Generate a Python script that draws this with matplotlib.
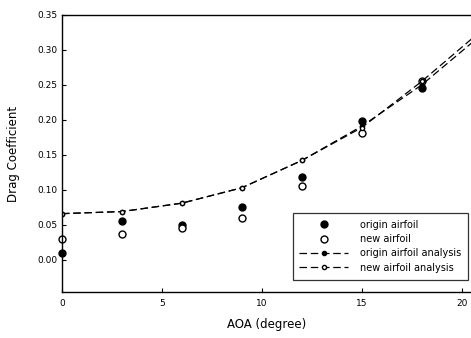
import matplotlib
matplotlib.use("Agg")
import matplotlib.pyplot as plt

plt.rcParams['font.family'] = ['DejaVu Sans']

# measured points
aoa = [0, 3, 6, 9, 12, 15, 18]
cd_origin = [0.010, 0.055, 0.050, 0.075, 0.118, 0.198, 0.245]
cd_new = [0.030, 0.037, 0.045, 0.060, 0.105, 0.181, 0.255]

# analysis curves
aoa_fit = [0, 3, 6, 9, 12, 15, 18, 21]
cd_origin_fit = [0.066, 0.069, 0.081, 0.103, 0.142, 0.191, 0.250, 0.322]
cd_new_fit = [0.066, 0.069, 0.081, 0.103, 0.142, 0.189, 0.255, 0.328]

fig = plt.figure(figsize=(4.71, 3.38), dpi=100)
ax = fig.add_axes([0.1316, 0.136, 0.87, 0.82])

ax.plot(aoa, cd_origin, 'o', color='black', ms=5, ls='none', label='origin airfoil', clip_on=False)
ax.plot(aoa, cd_new, 'o', color='black', mfc='white', ms=5, ls='none', label='new airfoil', clip_on=False)
ax.plot(aoa_fit, cd_origin_fit, '--', color='black', lw=0.9, marker='o', ms=3,
        dashes=(6, 3), label='origin airfoil analysis')
ax.plot(aoa_fit, cd_new_fit, '--', color='black', lw=0.9, marker='o', ms=3, mfc='white',
        dashes=(6, 3), label='new airfoil analysis')

ax.set_xlim(0, 20.5)
ax.set_ylim(-0.046, 0.35)
ax.set_xticks([0, 5, 10, 15, 20])
ax.set_yticks([0, 0.05, 0.10, 0.15, 0.20, 0.25, 0.30, 0.35])
ax.set_yticklabels(['0.00', '0.05', '0.10', '0.15', '0.20', '0.25', '0.30', '0.35'])
ax.tick_params(direction='in', labelsize=6.5, length=3, width=0.8)
ax.tick_params(axis='x', pad=5)
ax.spines['right'].set_visible(False)
for s in ['left', 'bottom', 'top']:
    ax.spines[s].set_linewidth(1.0)

ax.set_xlabel('AOA (degree)', fontsize=8.5, labelpad=7)
ax.set_ylabel('Drag Coefficient', fontsize=8.5, labelpad=12)

leg = ax.legend(loc='lower right', bbox_to_anchor=(0.99, 0.045), fontsize=7, frameon=True,
                fancybox=False, edgecolor='black', handlelength=5.0, labelspacing=0.45,
                handletextpad=1.2, borderpad=0.7, borderaxespad=0, numpoints=1)
leg.get_frame().set_linewidth(0.9)

fig.savefig('out.png', dpi=100)
